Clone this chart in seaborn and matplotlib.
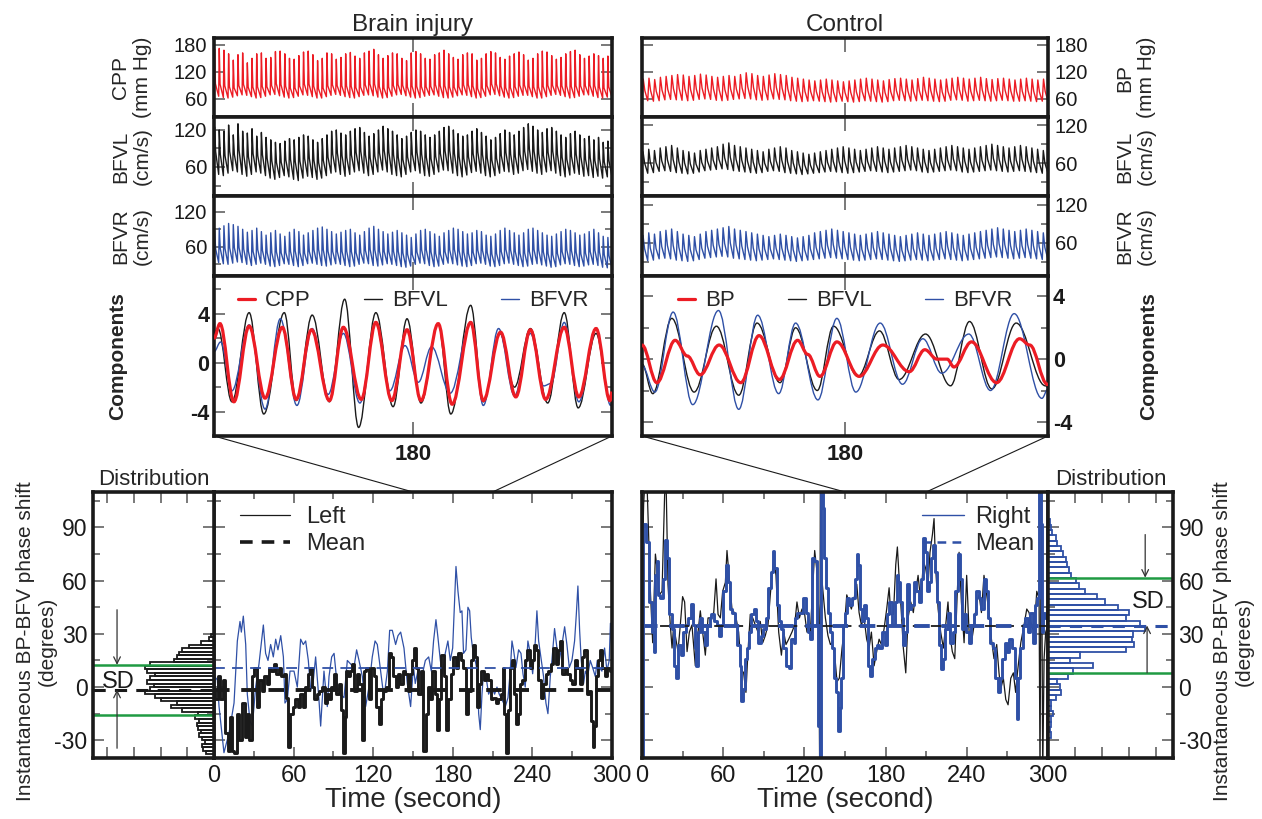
import numpy as np
import pandas as pd
import seaborn as sns
import matplotlib.pyplot as plt
from matplotlib.lines import Line2D
from matplotlib.path import Path
from matplotlib.patches import ConnectionPatch, PathPatch
from matplotlib.ticker import FixedLocator, MultipleLocator

RED, BLUE, GREEN, INK = "#ec1c24", "#2f50a6", "#1f9a43", "#1a1a1a"
WIN = (150, 210)  # zoomed window, seconds

# ---- raw signals: per-beat peak / trough values (brain injury) ----
inj_cpp_pk = [171,172,168,160,146,158,162,140,150,160,162,150,152,165,166,160,150,148,156,164,166,158,145,150,162,160,148,152,160,163,155,150,162,166,170,158,150,156,162,160,150,145,162,165,160,150,148,158,162,168,160,152,148,158,162,160,146,150,160,165,162,152,148,155,160,164,158,146,150,160,166,164,156,148,152,160,165,168,158,150,155,160,156,150,155]
inj_cpp_tr = [68,66,63,62,64,67,69,68,65,62,63,66,69,70,67,64,62,63,66,69,68,65,62,62,65,68,70,68,65,63,62,65,68,69,67,64,62,63,66,69,70,67,64,62,63,66,68,69,66,63,62,64,67,69,68,65,62,63,66,69,70,67,64,62,63,66,68,68,65,62,62,65,68,70,68,65,62,63,66,69,69,66,63,62,64]
inj_bfvl_pk = [125,120,118,128,112,130,118,115,122,110,116,108,104,100,98,102,106,104,108,112,110,104,100,106,112,118,120,115,112,118,122,124,116,110,114,120,126,122,118,112,106,110,116,120,118,112,108,112,118,124,126,120,114,110,112,118,122,116,110,104,108,114,120,116,112,118,124,130,126,120,116,122,124,118,112,108,114,118,112,106,110,104,108,100,102]
inj_bfvl_tr = [52,48,46,50,54,52,48,45,48,52,50,46,42,40,43,46,44,40,38,42,45,43,40,42,46,50,52,48,45,48,52,54,50,46,48,52,55,52,48,46,44,48,52,54,50,46,45,48,52,55,54,50,46,44,47,51,53,50,46,44,46,50,53,52,48,50,54,56,53,50,48,52,54,50,46,44,47,50,48,45,46,43,45,42,44]
inj_bfvr_pk = [88,92,96,100,98,95,90,85,88,92,86,80,84,88,82,78,85,90,86,80,84,88,92,94,90,86,82,85,88,90,84,80,86,92,95,90,86,82,85,88,84,80,76,82,88,90,86,82,78,84,88,92,90,86,82,84,88,86,80,78,82,88,92,88,84,80,84,90,92,88,84,80,78,82,86,90,88,84,80,82,86,90,84,78,76]
inj_bfvr_tr = [35,33,31,30,32,34,33,30,28,30,32,30,27,26,28,31,30,28,26,28,31,32,30,28,27,29,31,30,28,26,27,30,32,31,28,27,29,31,30,28,26,25,27,30,32,31,28,26,27,30,32,31,29,27,26,28,31,32,30,27,26,28,31,32,30,28,26,27,30,31,29,27,25,26,29,31,30,28,26,27,29,30,28,25,24]

# ---- raw signals (control) ----
ctl_bp_pk = [104,106,103,108,110,112,114,113,110,112,115,113,110,108,110,112,110,114,118,116,112,110,113,116,114,112,108,106,104,102,100,102,104,102,100,98,100,102,104,106,104,102,100,103,105,106,104,102,105,108,106,104,102,104,106,108,106,104,106,108,105,103,105,106,104,102,104,106,104,102,104]
ctl_bp_tr = [57,56,55,56,58,59,58,57,56,57,59,60,59,57,56,57,59,60,61,60,58,57,58,60,59,58,56,55,54,55,56,55,54,53,54,55,54,53,54,56,55,54,53,54,56,57,56,55,56,57,56,55,54,55,57,58,57,55,56,57,56,55,56,57,56,55,55,56,55,54,55]
ctl_bfvl_pk = [78,82,80,84,86,88,84,80,78,76,80,82,84,86,90,92,88,86,84,82,80,78,82,84,86,84,80,78,76,74,76,78,80,82,84,86,84,82,80,82,84,86,84,82,84,86,88,86,84,82,80,82,84,86,88,86,84,82,84,86,88,90,88,86,84,86,88,86,84,82,80]
ctl_bfvl_tr = [46,44,45,47,48,47,45,44,43,44,46,48,49,50,51,50,48,47,46,45,44,45,47,48,47,45,44,43,42,43,44,45,46,47,46,45,44,45,46,47,48,47,46,45,46,47,48,49,48,46,45,46,47,48,49,48,46,45,46,47,48,49,48,47,46,47,48,47,46,45,44]
ctl_bfvr_pk = [72,76,74,78,80,82,78,74,72,70,74,78,80,82,84,86,82,80,78,76,74,72,70,72,74,72,70,68,70,72,76,78,80,82,80,78,76,74,72,74,76,78,76,74,72,70,72,74,76,74,72,74,76,78,76,74,72,74,76,78,80,82,84,82,80,78,80,82,80,78,76]
ctl_bfvr_tr = [34,32,33,35,36,35,33,32,31,32,34,36,37,38,39,38,36,35,34,33,32,33,34,35,34,33,32,31,32,33,34,35,36,37,36,35,34,33,32,33,34,35,34,33,32,31,32,33,34,33,32,33,34,35,34,33,32,33,34,35,36,37,38,37,36,35,36,37,36,35,34]

# ---- components: extrema (time, value) ----
inj_comp_cpp_t = [150,150.9,153,155.3,157.7,160.3,162.4,164.7,167.4,169.5,172.2,174.4,176.8,179.1,181.2,183.8,185.9,188.7,190.6,193.2,195.5,197.7,200,202.8,205,207.6,209.7,210]
inj_comp_cpp_v = [2.0,3.2,-3.2,3.0,-2.9,2.9,-3.0,2.7,-3.1,2.9,-3.0,3.3,-3.1,2.7,-3.1,3.2,-3.4,3.3,-3.1,2.5,-2.8,2.7,-3.0,2.9,-2.8,2.8,-3.1,-2.4]
inj_comp_bfvl_t = [150,150.6,152.7,155.3,157.5,160.6,162.4,164.8,167.4,169.7,171.8,174.4,177,179.1,181.2,183.8,185.7,188.7,190.6,193.1,195.3,197.7,200.3,202.8,204.9,207.6,209.7,210]
inj_comp_bfvl_v = [2.5,2.8,-3.2,4.1,-4.2,4.1,-3.1,3.9,-3.2,5.2,-5.3,4.1,-3.6,3.6,-3.3,3.2,-4.2,4.7,-3.2,2.4,-2.0,2.8,-3.3,4.1,-3.7,2.4,-3.1,-2.5]
inj_comp_bfvr_t = [150,151,152.7,155.3,157.7,160,162.5,164.8,167.2,169.5,172,174.4,176.5,178.8,180.8,182.8,185.6,188.7,190.6,192.9,195.3,197.7,199.7,200.8,202.8,205,207.6,209.8,210]
inj_comp_bfvr_v = [0.9,1.7,-2.3,3.1,-3.8,3.6,-3.5,2.8,-2.6,2.4,-3.3,3.2,-2.3,1.4,-1.6,1.3,-2.5,3.3,-3.5,2.8,-2.7,2.4,-1.9,-1.7,3.3,-3.2,2.8,-3.5,-3.0]
ctl_comp_bp_t = [150,152.2,154.9,156.7,158.6,161.4,164.6,167.3,170.3,173,174.5,176.3,178.8,182.1,185.6,189.5,191.8,193.6,195.1,196.1,198.7,202.4,205.8,207.3,209.9,210]
ctl_comp_bp_v = [0.9,-1.5,1.2,0.2,-1.0,0.9,-1.5,1.5,-1.3,1.2,0.3,-1.1,1.1,-1.1,0.9,-0.8,0.6,0.0,0.0,-0.5,1.1,-1.5,1.3,0.9,-1.6,-1.7]
ctl_comp_bfvl_t = [150,151.6,154.4,157.7,161,164.3,167,170.4,172.7,175.9,178.3,181.9,185.1,188,191.9,195.6,198.4,201.7,205.3,209.6,210]
ctl_comp_bfvl_v = [-0.3,-2.2,2.6,-2.1,2.1,-2.3,2.3,-1.5,2.0,-2.0,2.1,-1.1,1.8,-1.3,1.6,-1.7,2.4,-1.9,2.3,-1.7,-1.8]
ctl_comp_bfvr_t = [150,151.9,154.6,157.5,161.3,164.3,167.1,170.2,172.7,176,178.8,181.6,185.2,188.5,191.5,194.3,198.3,201.5,205,209.1,210]
ctl_comp_bfvr_v = [-0.4,-2.1,3.0,-2.9,3.1,-3.2,2.8,-2.2,2.3,-2.6,2.6,-2.1,2.3,-1.6,1.3,-0.9,1.6,-2.0,2.9,-2.5,-1.9]

# ---- instantaneous phase shift (time s, degrees) ----
inj_phase_left = [(0,-2),(2,-7),(3.8,6),(5.5,-7),(7.5,4),(9.5,-26),(11.3,-36),(13,-17),(14.6,-36),(16.3,-37),(18.1,-15),(20.1,-30),(22.1,-9),(23.9,-28),(25.6,-15),(27.6,-30),(29.6,6),(31.4,11),(33.2,-11),(35.2,4),(37.2,-2),(38.9,6),(40.7,2),(42.2,11),(44,9),(45.7,13),(47.7,7.5),(49.7,11),(51.5,6),(53.3,7.5),(54.8,-6),(56.5,-34),(58.3,-15),(60.3,-11),(62.3,-7),(64.1,-11),(65.8,-4),(67.8,-11),(69.8,0),(71.6,7.5),(72.9,11),(74.9,0),(76.6,-7),(78.4,-4),(80.4,-2),(82.4,0),(84.2,-9),(85.4,-4),(87.4,-7),(89.2,0),(91,7.5),(93,-4),(95,2),(96.7,-13),(98,-37),(99.2,-17),(100.5,9),(101.8,6),(103,9),(105,13),(106.8,-2),(108.5,7.5),(110.6,2),(111.8,-30),(113.6,9),(115.6,11),(117.6,-7),(119.3,11),(121.4,6),(123.1,-11),(125.1,-21),(126.9,-7),(128.6,-2),(130.7,0),(132.7,19),(134.4,17),(136.2,6),(137.7,0),(139.4,7.5),(141.2,2),(143.2,9),(145.2,7.5),(147,-2),(148.7,7.5),(150.3,15),
                  (151.7,22),(153,11),(154.7,-4),(156.7,9),(158.7,-36),(160.5,-15),(162.3,0),(163.8,-7),(165.5,9),(167.3,-4),(168.8,-24),(170.6,-7),(172.3,18),(173.8,6),(175.6,-24),(177.3,-7),(179.4,7.5),(181.4,17),(183.1,11),(184.9,19),(186.9,15),(188.9,11),(190.7,-15),(192.4,-2),(194.4,15),(195.7,24),(197.4,17),(198.9,-11),(200.7,2),(202.5,9),(204,4),(205.7,7.5),(207.5,4),(209.5,-7),(211.5,-6),(213.3,-9),(215,-7),(217,-4),(218.3,11),(219.6,-15),(220.8,-37),(222.1,-13),(223.6,11),(225.1,15),(226.6,-4),(228.3,-21),(230.1,-15),(231.6,2),(233.4,4),(235.1,15),(237.1,21),(238.6,11),(240.2,15),(241.7,24),(243.4,21),(245.2,4),(247.2,-6),(249.2,2),(251,7.5),(252.7,9),(254.7,13),(256.7,22),(258.5,13),(260.3,21),(261.8,26),(263.5,7.5),(265.3,11),(267.3,7.5),(269.3,4),(271.1,2),(272.8,15),(274.8,11),(276.8,2),(278.6,17),(279.9,21),(281.9,-4),(283.6,-2),(284.9,-19),(286.1,-34),(287.4,-22),(288.6,6),(290.4,15),(291.9,21),(293.7,11),(295.4,6),(297.4,11),(299.4,9),(300,15)]
inj_phase_right = [(0,6.5),(2.5,4),(3.8,-11),(7.5,-37),(11.3,-26),(15.1,-9),(17.6,26),(19.6,37),(20.6,31),(22.1,40),(23.9,24),(25.1,-4),(27.1,-19),(28.9,-22),(31.4,0),(33.9,13),(37.2,35),(38.9,19),(40.7,15),(42.7,24),(44.7,17),(46.5,27),(48.2,21),(50.3,29),(52.3,17),(53.5,-9),(55.3,-7),(57.3,9),(60.3,9),(62.8,0),(65.3,27),(67.3,24),(69.1,26),(71.1,15),(72.9,-2),(74.9,4),(76.6,17),(79.1,-7),(80.4,-22),(82.9,9),(85.4,-11),(86.7,6),(88.7,17),(90.5,19),(93,0),(95.5,-4),(98,-6),(100.5,15),(103,13),(105.5,11),(107.5,21),(109.3,15),(111.8,6),(114.3,-11),(116.8,0),(119.3,17),(121.4,26),(123.1,24),(125.6,9),(128.1,-6),(130.7,9),(132.4,32),(134.4,32),(136.9,24),(138.7,29),(140.7,31),(143.2,22),(145.7,2),(148.2,-11),(150.3,12),
                   (151.7,2),(154.2,11),(156.7,6),(159.3,15),(161.8,17),(163.8,9),(165.5,26),(167.3,38),(168.8,28),(170.6,15),(172.3,7.5),(174.3,19),(176.3,26),(178.1,15),(179.9,22),(181.4,49),(182.4,68),(183.9,54),(185.6,42),(186.9,43),(188.1,19),(189.9,21),(191.4,45),(192.7,43),(193.9,28),(195.7,17),(196.9,15),(198.4,9),(199.5,-15),(200.7,-24),(202,-4),(203.2,9),(205,6),(207,-4),(209.5,0),(211.5,-4),(213.3,0),(215,-4),(217,-7),(219.6,-11),(221.6,-6),(223.3,9),(224.6,26),(225.8,21),(227.6,11),(229.6,21),(231.4,19),(232.9,7.5),(234.6,0),(236.6,26),(238.4,19),(240.2,7.5),(242.2,26),(243.4,43),(244.7,26),(246.7,15),(248.4,6),(250.2,-9),(251.7,-15),(253.5,6),(254.7,15),(256.7,33),(258.5,22),(260.3,15),(262.3,24),(264.3,34),(266,24),(267.8,11),(269.8,15),(271.8,26),(273.1,41),(274.3,57),(275.6,32),(276.8,15),(278.6,2),(279.9,9),(281.6,6),(283.6,15),(285.4,11),(287.4,6),(288.9,15),(290.4,11),(292.4,9),(294.4,22),(296.2,9),(297.9,15),(298.8,36),(300,20)]
ctl_phase_left = [(0,60),(1.2,103),(2.5,120),(3.7,115),(6.2,54),(7.9,25),(9.9,75),(11.1,67),(12.8,52),(14.8,54),(16.7,108),(17.7,120),(19.2,58),(20.9,35),(22.2,22),(23.4,35),(24.6,29),(26.6,20),(28.3,35),(30,51),(31.5,48),(33.3,20),(35,31),(36.9,35),(39.4,12),(41.4,31),(43.1,43),(44.8,31),(46.8,18),(48.8,39),(50.5,39),(53,42),(54.7,61),(56.2,41),(57.9,39),(59.6,54),(61.6,59),(62.8,77),(64.5,61),(66.5,44),(69,41),(71.4,31),(73.4,10),(75.1,8),(76.8,-3),(78.3,20),(80,41),(81.8,39),(83.7,35),(85.7,31),(87.4,37),(89.2,25),(91.1,29),(93.1,35),(94.8,52),(97.3,73),(99,63),(101,31),(103,18),(104.7,31),(106.4,24),(108.4,27),(110.8,31),(112.8,35),(114.5,48),(116.3,39),(118.2,44),(120.2,41),(121.9,31),(124.4,31),(126.1,56),(127.6,77),(129.3,65),(130.5,44),(131.3,-50),(131.8,120),(133,60),(135.5,39),(137.4,29),(139.2,24),(140.4,25),(142.4,18),(144.1,3),(145.8,5),(147.8,22),
                  (149.3,31),(151.3,52),(153,48),(154.7,44),(156.7,50),(158.7,58),(160.4,42),(162.1,35),(164.1,39),(166,27),(167.8,22),(169.5,31),(171.5,12),(173.4,20),(175.2,27),(176.9,24),(178.9,33),(180.8,44),(182.6,56),(183.8,41),(185.8,41),(187.5,69),(188.7,79),(189.9,63),(191.7,41),(193.1,22),(194.9,8),(196.6,39),(198.6,48),(200.5,42),(202.3,54),(204,63),(206,48),(207.9,71),(209.6,67),(211.4,58),(212.8,76),(214.6,86),(215.8,95),(217,67),(218.8,44),(220.7,31),(222.7,22),(224.4,35),(226.1,48),(227.6,29),(229.3,20),(231.1,16),(233,54),(234.3,76),(236,48),(238,25),(239.9,63),(241.7,31),(243.4,25),(245.4,35),(247.3,48),(249.1,52),(250.8,42),(252.7,63),(254.7,52),(256.4,42),(258.2,27),(260.1,16),(262.1,24),(263.8,8),(265.1,-1),(267,5),(268.8,-7),(270.5,-10),(272.5,5),(274.4,8),(276.1,-3),(277.4,8),(279.9,25),(282.3,35),(284.3,44),(286,42),(287.7,35),(289.7,31),(291.7,54),(293.4,50),(294.1,-50),(295.1,120),(296.1,-50),(297.1,16),(298.3,31),(300,35)]
ctl_phase_right = [(0,-45),(2,92),(4.4,82),(6.2,48),(7.9,31),(9.4,20),(10.3,63),(11.3,71),(12.8,52),(14.3,50),(16,61),(17.7,83),(19.2,73),(20.9,41),(22.7,33),(24.6,12),(25.9,5),(27.6,24),(29.6,18),(31.5,31),(33.3,35),(35,39),(36.9,47),(38.2,35),(39.4,22),(40.9,12),(42.4,31),(43.8,39),(45.6,31),(47.3,24),(49.3,35),(50.5,39),(51.7,41),(54.2,37),(56.2,35),(57.9,29),(59.1,35),(61.1,54),(62.8,69),(64,59),(66,44),(67.7,42),(69.5,35),(71.4,24),(72.7,12),(73.9,-8),(75.1,-1),(76.4,16),(78.3,22),(80,31),(81.8,41),(83.7,44),(85.2,37),(86.7,25),(88.7,29),(90.6,33),(92.4,39),(94.1,56),(96.1,65),(97.3,77),(98.5,67),(100.5,46),(102.2,37),(103.4,33),(105.4,22),(107.1,12),(109.6,11),(111.3,27),(112.8,25),(113.8,39),(115.8,42),(118.2,42),(120.2,50),(121.9,42),(123.2,31),(125.1,27),(126.8,73),(128.1,71),(129.8,35),(131,-22),(132,-50),(133,120),(134.2,101),(135.5,73),(136.7,56),(137.9,42),(139.2,31),(140.9,22),(142.4,5),(144.1,-3),(145.3,-25),(146.8,-12),(147.8,5),(149.3,35),
                   (150.5,42),(152.3,50),(154.2,46),(156.2,50),(157.9,61),(159.2,75),(160.4,69),(162.1,44),(163.6,37),(164.6,46),(166,39),(167.8,12),(169,6),(171,16),(172.7,22),(174.4,24),(176.4,22),(178.4,31),(180.1,24),(181.8,41),(183.8,48),(185.8,35),(187.5,48),(188.7,63),(189.9,59),(191.2,48),(192.4,39),(193.6,24),(195.6,31),(196.6,58),(198.1,44),(199.8,46),(201.5,59),(203.5,54),(205.5,48),(207.2,61),(208.4,84),(209.6,76),(210.9,54),(212.8,59),(214.6,73),(215.8,80),(217,65),(218.8,48),(220.2,24),(222,10),(223.2,16),(225.2,33),(226.9,42),(228.6,25),(230.6,31),(232.5,54),(234.3,75),(235.5,61),(236.7,33),(238.5,41),(240.4,31),(242.4,25),(244.1,35),(245.9,41),(247.8,54),(249.8,50),(251.5,44),(253.2,61),(254.7,54),(256.4,39),(258.2,25),(260.1,22),(262.1,5),(263.8,-3),(265.1,5),(267,16),(268.8,25),(270.5,20),(272.5,27),(274.4,22),(276.1,5),(277.4,-18),(278.6,5),(280.3,22),(282.3,35),(284.3,39),(286,31),(287.7,42),(289.7,25),(291.4,46),(292.6,50),(294.1,120),(295.1,92),(296.1,31),(297.1,42),(298.6,39),(300,38)]

# means and +/- SD bounds (degrees)
inj_mean_left, inj_mean_right, inj_sd_bounds = -1.5, 10.8, (12.5, -15.5)
ctl_mean_left, ctl_mean_right, ctl_sd_bounds = 34.7, 34.7, (61.7, 8.1)

# distributions (bin centre in degrees, count)
inj_hist_deg = [-37,-35,-33,-31,-29,-27,-25,-23,-21,-19,-17,-15,-13,-11,-9,-7,-5,-3,-1,1,3,5,7,9,11,13,15,17,19,21,23,25,27,29]
inj_hist_cnt = [3,4,4.4,3.5,4.5,5.5,5,6,6.2,5.5,7,6,12,16,14,20,22,26,24,22.5,25,24,22,25,26,24,15,14,13,12,9.4,5,2,1]
ctl_hist_deg = [-27,-24,-21,-18,-15,-12,-9,-6,-3,0,3,6,9,12,15,18,21,24,27,30,33,36,39,42,45,48,51,54,57,60,63,66,69,72,75,78,81,84,87,90,93]
ctl_hist_cnt = [1.2,0.7,1.2,1,1.9,1,1.2,3.1,4.9,4.3,3.5,7.4,9.3,16.7,8,12,29,32,31,31.5,36,34,29,30,26,21,18,13.6,11.5,10.5,8.5,7.6,7.2,6.5,5.5,4.8,3.5,2.8,1.6,1.1,0.8]

# ---------------------------------------------------------------
sns.set_theme(style="ticks")
plt.rcParams["font.family"] = ["Liberation Sans", "DejaVu Sans"]
plt.rcParams["axes.unicode_minus"] = False
plt.rcParams["xtick.labelsize"] = 14.5
plt.rcParams["ytick.labelsize"] = 14.5

fig = plt.figure(figsize=(12.62, 8.19), dpi=100)


def box(x0, y0, x1, y1):
    return fig.add_axes([x0 / 1262, 1 - y1 / 819, (x1 - x0) / 1262, (y1 - y0) / 819])


def frame(ax, lw=2.6):
    for s in ax.spines.values():
        s.set_linewidth(lw)
        s.set_color(INK)
    ax.tick_params(which="both", direction="in", top=True, bottom=True, left=True, right=True,
                   colors="#555555", labelcolor=INK, width=1.1)
    ax.tick_params(which="major", length=8)
    ax.tick_params(which="minor", length=5)


def beat_frame(peaks, troughs, rise, knee, frac):
    n = min(len(peaks), len(troughs))
    step = (WIN[1] - WIN[0]) / n
    rows = []
    for i in range(n):
        t0 = WIN[0] + i * step
        rows.append((t0, troughs[i]))
        rows.append((t0 + rise * step, peaks[i]))
        rows.append((t0 + knee * step, troughs[i] + frac * (peaks[i] - troughs[i])))
    rows.append((WIN[1], troughs[n - 1]))
    return pd.DataFrame(rows, columns=["t", "v"])


def smooth_path(t, v):
    # cubic bezier through the read extrema, flat tangent at each one
    verts, codes = [(t[0], v[0])], [Path.MOVETO]
    for (a, p), (b, q) in zip(zip(t[:-1], v[:-1]), zip(t[1:], v[1:])):
        h = 0.363 * (b - a)
        verts += [(a + h, p), (b - h, q), (b, q)]
        codes += [Path.CURVE4] * 3
    return Path(verts, codes)


def line(ax, t, v, **kw):
    sns.lineplot(x=list(t), y=list(v), ax=ax, estimator=None, sort=False, legend=False, **kw)


columns = [
    dict(x0=214, x1=612, side="left", title="Brain injury",
         raw=[("CPP\n(mm Hg)", inj_cpp_pk, inj_cpp_tr, RED, (20, 195), [], (0.12, 0.3, 0.25)),
              ("BFVL\n(cm/s)", inj_bfvl_pk, inj_bfvl_tr, INK, (13, 141), [30, 90], (0.12, 0.35, 0.45)),
              ("BFVR\n(cm/s)", inj_bfvr_pk, inj_bfvr_tr, BLUE, (10, 147), [30, 90], (0.12, 0.35, 0.4))],
         comp=[("CPP", inj_comp_cpp_t, inj_comp_cpp_v, RED, 2.3),
               ("BFVL", inj_comp_bfvl_t, inj_comp_bfvl_v, INK, 1.0),
               ("BFVR", inj_comp_bfvr_t, inj_comp_bfvr_v, BLUE, 1.0)],
         comp_ylim=(-6, 7.1), comp_minor=[-2, 2, 6]),
    dict(x0=642, x1=1048, side="right", title="Control",
         raw=[("BP\n(mm Hg)", ctl_bp_pk, ctl_bp_tr, RED, (20, 195), [], (0.22, 0.5, 0.45)),
              ("BFVL\n(cm/s)", ctl_bfvl_pk, ctl_bfvl_tr, INK, (8, 133), [30, 90], (0.18, 0.45, 0.45)),
              ("BFVR\n(cm/s)", ctl_bfvr_pk, ctl_bfvr_tr, BLUE, (8, 134), [30, 90], (0.18, 0.45, 0.45))],
         comp=[("BP", ctl_comp_bp_t, ctl_comp_bp_v, RED, 2.3),
               ("BFVL", ctl_comp_bfvl_t, ctl_comp_bfvl_v, INK, 1.0),
               ("BFVR", ctl_comp_bfvr_t, ctl_comp_bfvr_v, BLUE, 1.0)],
         comp_ylim=(-4.9, 5.3), comp_minor=[-2, 2]),
]

comp_axes = []
for col in columns:
    right = col["side"] == "right"
    for (y0, y1), (label, pk, tr, color, ylim, minor, shape) in zip([(38, 117), (117, 196), (196, 276)], col["raw"]):
        ax = box(col["x0"], y0, col["x1"], y1)
        sns.lineplot(data=beat_frame(pk, tr, *shape), x="t", y="v", ax=ax, color=color, lw=1.0,
                     estimator=None, sort=False)
        frame(ax)
        ax.set_xlim(*WIN)
        ax.set_ylim(*ylim)
        ax.set_xticks([180])
        ax.set_yticks([60, 120, 180] if "mm Hg" in label else [60, 120])
        ax.yaxis.set_minor_locator(FixedLocator(minor))
        ax.tick_params(axis="x", which="major", length=10, labelbottom=False)
        ax.tick_params(axis="y", labelleft=not right, labelright=right, pad=5)
        ax.set_xlabel("")
        ax.set_ylabel(label, fontsize=15, linespacing=1.2)
        if right:
            ax.yaxis.set_label_position("right")
            ax.yaxis.set_label_coords(1.165, 0.5)
        else:
            ax.yaxis.set_label_coords(-0.156, 0.5)
        if y0 == 38:
            ax.set_title(col["title"], fontsize=17.5, pad=5)

    ax = box(col["x0"], 276, col["x1"], 436)
    handles = []
    for name, t, v, color, lw in col["comp"]:
        ax.add_patch(PathPatch(smooth_path(t, v), fill=False, edgecolor=color, lw=lw, zorder=3 if lw > 2 else 2))
        handles.append(Line2D([], [], color=color, lw=lw))
    frame(ax)
    ax.set_xlim(*WIN)
    ax.set_ylim(*col["comp_ylim"])
    ax.set_xticks([180])
    ax.set_yticks([-4, 0, 4])
    ax.yaxis.set_minor_locator(FixedLocator(col["comp_minor"]))
    ax.tick_params(axis="x", which="major", length=10, labelsize=16, pad=6)
    ax.tick_params(axis="y", labelleft=not right, labelright=right, labelsize=15.5)
    for lab in ax.get_xticklabels() + ax.get_yticklabels():
        lab.set_fontweight("bold")
    ax.set_ylabel("Components", fontsize=15, fontweight="bold")
    if right:
        ax.yaxis.set_label_position("right")
        ax.yaxis.set_label_coords(1.224, 0.5)
    else:
        ax.yaxis.set_label_coords(-0.219, 0.5)
    ax.legend(handles, [c[0] for c in col["comp"]], ncol=3, loc="upper center", bbox_to_anchor=(0.5, 1.0),
              frameon=False, fontsize=16, handlelength=0.8, handletextpad=0.45, columnspacing=2.4,
              borderaxespad=0.25)
    comp_axes.append(ax)

# ---- bottom: phase shift over time + distributions ----
panels = [
    dict(main=(214, 612), dist=(93, 214), side="left",
         thin=(inj_phase_right, BLUE), thick=(inj_phase_left, INK),
         means=[(inj_mean_right, BLUE, 1.3), (inj_mean_left, INK, 2.8)],
         hist=(inj_hist_deg, inj_hist_cnt, INK, 2), sd=inj_sd_bounds, dmean=(inj_mean_left, INK),
         legend=("Left", INK, 0.9, 2.6), xlim=(45.3, 0)),
    dict(main=(642, 1048), dist=(1048, 1173), side="right",
         thin=(ctl_phase_left, INK), thick=(ctl_phase_right, BLUE),
         means=[(ctl_mean_left, INK, 1.3), (ctl_mean_right, BLUE, 2.8)],
         hist=(ctl_hist_deg, ctl_hist_cnt, BLUE, 3), sd=ctl_sd_bounds, dmean=(ctl_mean_right, BLUE),
         legend=("Right", BLUE, 1.0, 1.8), xlim=(0, 46.3)),
]

for p, cax in zip(panels, comp_axes):
    right = p["side"] == "right"
    ax = box(p["main"][0], 492, p["main"][1], 758)
    ser, color = p["thin"]
    line(ax, [a for a, b in ser], [b for a, b in ser], color=color, lw=0.9)
    ser, color = p["thick"]
    line(ax, [a for a, b in ser], [b for a, b in ser], color=color, lw=2.1, drawstyle="steps-mid")
    for m, color, lw in p["means"]:
        ax.axhline(m, color=color, lw=lw, ls=(0, (4, 3)) if lw > 2 else (0, (6, 4)))
    frame(ax)
    ax.set_xlim(0, 300)
    ax.set_ylim(-40, 110)
    ax.xaxis.set_major_locator(MultipleLocator(60))
    ax.xaxis.set_minor_locator(MultipleLocator(30))
    ax.yaxis.set_major_locator(MultipleLocator(30))
    ax.yaxis.set_minor_locator(MultipleLocator(15))
    ax.tick_params(axis="y", labelleft=False, labelright=False)
    ax.tick_params(axis="x", labelsize=17, pad=5)
    ax.set_xlabel("Time (second)", fontsize=20, labelpad=0)
    ax.set_ylabel("")
    name, lc, lw1, lw2 = p["legend"]
    handles = [Line2D([], [], color=lc, lw=lw1), Line2D([], [], color=lc, lw=lw2, ls=(0, (3.5, 2.5)))]
    if right:
        ax.legend(handles, [name, "Mean"], loc="upper right", bbox_to_anchor=(1.0, 1.0), frameon=False,
                  fontsize=17, handlelength=1.8, handletextpad=0.45, labelspacing=0.2, borderaxespad=0.2)
    else:
        ax.legend(handles, [name, "Mean"], loc="upper left", bbox_to_anchor=(0.03, 1.0), frameon=False,
                  fontsize=17, handlelength=2.1, handletextpad=0.7, labelspacing=0.2, borderaxespad=0.2)

    for x in WIN:
        fig.add_artist(ConnectionPatch(xyA=(x, cax.get_ylim()[0]), coordsA=cax.transData,
                                       xyB=(x, 110), coordsB=ax.transData, color=INK, lw=0.8))

    dax = box(p["dist"][0], 492, p["dist"][1], 758)
    deg, cnt, hc, bw = p["hist"]
    edges = [d - bw / 2 for d in deg] + [deg[-1] + bw / 2]
    sns.histplot(y=deg, weights=cnt, bins=edges, fill=False, color=hc, linewidth=1.3, ax=dax)
    top, bot = p["sd"]
    dax.axhline(top, color=GREEN, lw=1.8)
    dax.axhline(bot, color=GREEN, lw=1.8)
    dax.axhline(p["dmean"][0], color=p["dmean"][1], lw=2.2, ls=(0, (4, 3)))
    frame(dax)
    dax.set_xlim(*p["xlim"])
    dax.set_ylim(-40, 110)
    dax.xaxis.set_major_locator(FixedLocator([10, 20, 30, 40]))
    dax.yaxis.set_major_locator(MultipleLocator(30))
    dax.yaxis.set_minor_locator(MultipleLocator(15))
    dax.tick_params(axis="x", labelbottom=False)
    dax.tick_params(axis="y", labelsize=16.5, labelleft=not right, labelright=right, pad=4)
    dax.set_xlabel("")
    dax.set_title("Distribution", fontsize=16, pad=5)
    dax.set_ylabel("Instantaneous BP-BFV phase shift\n(degrees)", fontsize=15, linespacing=1.2)
    arrow = dict(arrowstyle="->", color="#333333", lw=0.9, shrinkA=0, shrinkB=0)
    if right:
        dax.yaxis.set_label_position("right")
        dax.yaxis.set_label_coords(1.32, 0.44)
        dax.annotate("", xy=(36, top), xytext=(36, 86), arrowprops=arrow)
        dax.annotate("", xy=(36.7, p["dmean"][0]), xytext=(36.7, bot), arrowprops=arrow)
        dax.text(37, 48, "SD", fontsize=17, ha="center", va="center", color=INK)
    else:
        dax.yaxis.set_label_coords(-0.30, 0.44)
        dax.annotate("", xy=(36.3, top), xytext=(36.3, 43.6), arrowprops=arrow)
        dax.annotate("", xy=(36.3, p["dmean"][0]), xytext=(36.3, -34.5), arrowprops=arrow)
        dax.text(36, 3, "SD", fontsize=17, ha="center", va="center", color=INK)

fig.savefig("out.png", dpi=100)
